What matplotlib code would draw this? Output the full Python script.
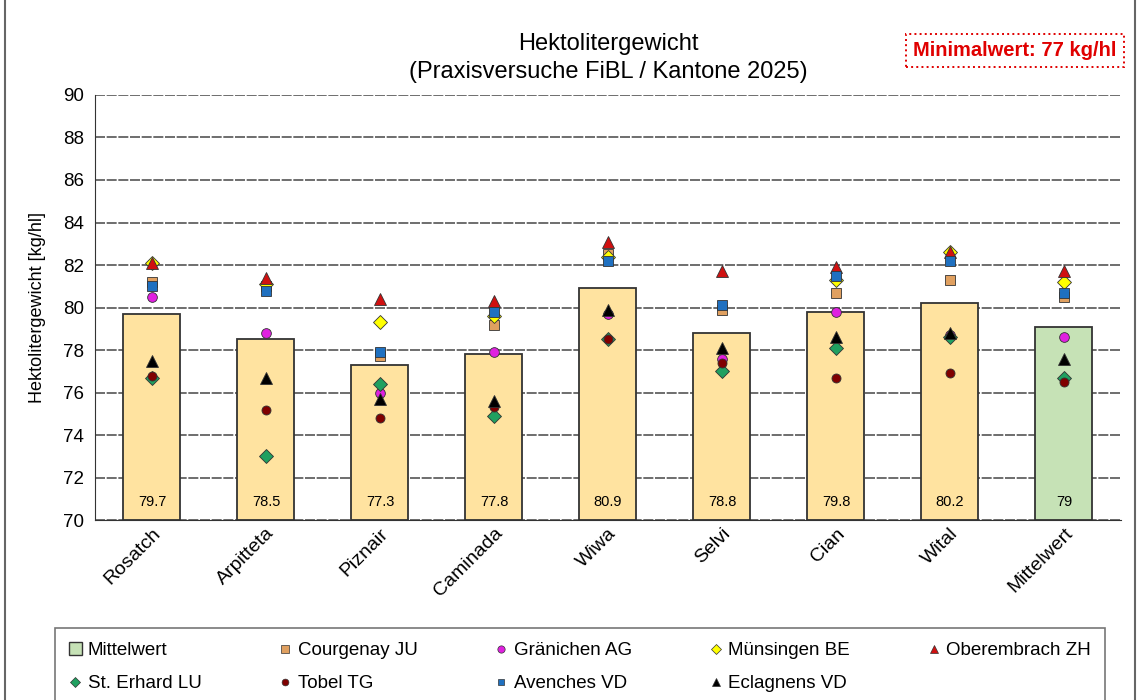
import numpy as np
import matplotlib.pyplot as plt
from matplotlib.patches import Rectangle
from matplotlib.lines import Line2D

plt.rcParams["font.family"] = ["Liberation Sans", "DejaVu Sans"]

# categories and bar values
sorten = ["Rosatch", "Arpitteta", "Piznair", "Caminada", "Wiwa",
          "Selvi", "Cian", "Wital", "Mittelwert"]
mittel = [79.7, 78.5, 77.3, 77.8, 80.9, 78.8, 79.8, 80.2, 79.1]
mittel_labels = ["79.7", "78.5", "77.3", "77.8", "80.9", "78.8", "79.8", "80.2", "79"]

# per-site values, nan = missing
courgenay   = [81.2, 81.0, 77.7, 79.2, 82.5, 79.9, 80.7, 81.3, 80.5]
graenichen  = [80.5, 78.8, 76.0, 77.9, 79.7, 77.6, 79.8, 78.7, 78.6]
muensingen  = [82.1, 81.1, 79.3, 79.6, 82.4, np.nan, 81.3, 82.6, 81.2]
oberembrach = [82.1, 81.4, 80.4, 80.3, 83.1, 81.7, 81.9, 82.6, 81.7]
st_erhard   = [76.7, 73.0, 76.4, 74.9, 78.5, 77.0, 78.1, 78.6, 76.7]
tobel       = [76.8, 75.2, 74.8, 75.3, 78.5, 77.4, 76.7, 76.9, 76.5]
avenches    = [81.0, 80.8, 77.9, 79.8, 82.2, 80.1, 81.5, 82.2, 80.7]
eclagnens   = [77.5, 76.7, 75.7, 75.6, 79.9, 78.1, 78.6, 78.8, 77.6]

sites = [
    ("Courgenay JU", courgenay, "s", "#E0A060", 7),
    ("Gränichen AG", graenichen, "o", "#E020E0", 7),
    ("Münsingen BE", muensingen, "D", "#FFFF00", 7),
    ("Oberembrach ZH", oberembrach, "^", "#D01010", 8),
    ("St. Erhard LU", st_erhard, "D", "#20A060", 7),
    ("Tobel TG", tobel, "o", "#800000", 6.5),
    ("Avenches VD", avenches, "s", "#1F70C0", 6.5),
    ("Eclagnens VD", eclagnens, "^", "#000000", 8),
]

fig = plt.figure(figsize=(11.4, 7), dpi=100)
ax = fig.add_axes([0.0833, 0.2571, 0.9, 0.6072])

x = np.arange(len(sorten))
colors = ["#FFE3A0"] * (len(sorten) - 1) + ["#C6E2B6"]
ax.bar(x, np.array(mittel) - 70, bottom=70, width=0.5, color=colors,
       edgecolor="#333333", linewidth=1.3, zorder=2)
for xi, lab in zip(x, mittel_labels):
    ax.text(xi, 70.85, lab, ha="center", va="center", fontsize=10.5, zorder=3)

for name, vals, m, c, ms in sites:
    ax.plot(x, vals, linestyle="none", marker=m, color=c, markersize=ms,
            markeredgecolor="#333333", markeredgewidth=0.6, zorder=4)

ax.set_xlim(-0.5, len(sorten) - 0.5)
ax.set_ylim(70, 90)
ax.set_yticks(np.arange(70, 91, 2))
ax.yaxis.grid(True, color="#555555", linewidth=1.2, linestyle=(0, (6, 1)))
ax.set_axisbelow(True)
ax.tick_params(axis="y", labelsize=13.5, direction="in", length=0, pad=8)
ax.tick_params(axis="x", length=5, direction="in")
ax.set_xticks(x)
ax.set_xticklabels(sorten, rotation=45, ha="right", rotation_mode="anchor",
                   fontsize=14)
for s in ["top", "right"]:
    ax.spines[s].set_visible(False)
ax.spines["left"].set_color("#333333")
ax.spines["bottom"].set_color("#333333")
ax.set_ylabel("Hektolitergewicht [kg/hl]", fontsize=13, labelpad=12)
ax.set_title("Hektolitergewicht\n(Praxisversuche FiBL / Kantone 2025)",
             fontsize=17, pad=12, linespacing=1.4)

fig.text(0.8905, 0.928, "Minimalwert: 77 kg/hl", color="#E00000",
         fontsize=14.5, fontweight="bold", ha="center", va="center",
         bbox=dict(boxstyle="square,pad=0.35", facecolor="white",
                   edgecolor="#E00000", linestyle=":", linewidth=1.4))

handles = [Rectangle((0, 0), 1, 1, facecolor="#C6E2B6", edgecolor="#333333")]
labels = ["Mittelwert"]
for name, vals, m, c, ms in sites:
    handles.append(Line2D([], [], linestyle="none", marker=m, color=c,
                          markersize=ms * 0.75, markeredgecolor="#333333",
                          markeredgewidth=0.5))
    labels.append(name)
# legend fills column by column, reorder so it reads row by row
order = [0, 5, 1, 6, 2, 7, 3, 8, 4]
handles = [handles[i] for i in order]
labels = [labels[i] for i in order]
leg = fig.legend(handles, labels, ncol=5, loc="upper left",
                 bbox_to_anchor=(0.048, -0.05, 0.921, 0.153), mode="expand",
                 fontsize=13.5, frameon=True, fancybox=False,
                 handlelength=0.7, handletextpad=0.3, borderaxespad=0,
                 labelspacing=0.85, borderpad=0.75)
leg.get_frame().set_edgecolor("#555555")
leg.get_frame().set_linewidth(1.2)

fig.patches.append(Rectangle((0.004, -0.01), 0.992, 1.02, transform=fig.transFigure,
                             fill=False, edgecolor="#666666", linewidth=1.5))

fig.savefig("out.png", dpi=100)
